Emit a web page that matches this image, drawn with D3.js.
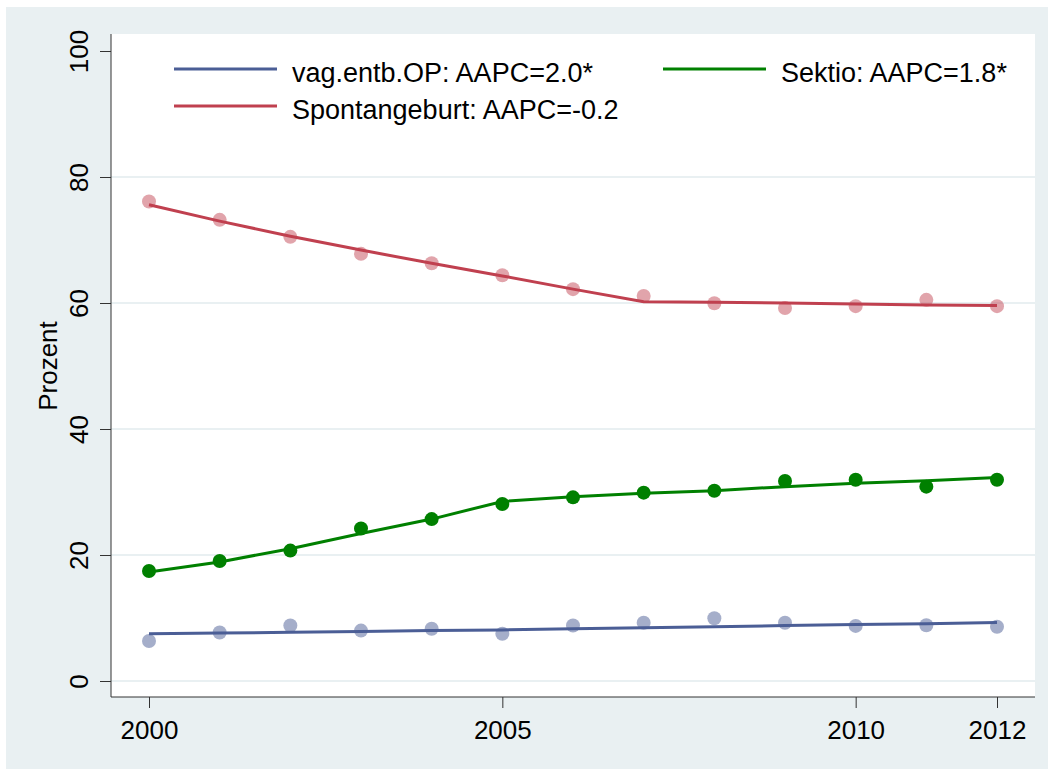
<!DOCTYPE html>
<html>
<head>
<meta charset="utf-8">
<script src="https://cdn.jsdelivr.net/npm/d3@7"></script>
<style>
  body { margin: 0; background: #fff; }
  text { font-family: "Liberation Sans", Arial, sans-serif; fill: #000; }
</style>
</head>
<body>
<svg width="1048" height="769"></svg>
<script>
// data
const years = [2000, 2001, 2002, 2003, 2004, 2005, 2006, 2007, 2008, 2009, 2010, 2011, 2012];
const vagObs   = [6.35, 7.7, 8.8, 8.0, 8.3, 7.5, 8.8, 9.25, 9.95, 9.25, 8.75, 8.85, 8.6];
const vagFit   = [7.5, 7.6, 7.75, 7.85, 8.0, 8.1, 8.3, 8.45, 8.6, 8.8, 8.95, 9.1, 9.3];
const spontObs = [76.1, 73.2, 70.5, 67.8, 66.3, 64.4, 62.2, 61.1, 59.95, 59.2, 59.5, 60.5, 59.5];
const spontFit = [75.6, 73.0, 70.6, 68.4, 66.3, 64.3, 62.2, 60.2, 60.1, 60.0, 59.85, 59.7, 59.6];
const sektioObs = [17.45, 19.05, 20.7, 24.2, 25.7, 28.1, 29.15, 29.9, 30.2, 31.75, 31.95, 30.85, 31.95];
const sektioFit = [17.3, 18.9, 21.0, 23.4, 25.7, 28.5, 29.25, 29.8, 30.2, 30.85, 31.4, 31.8, 32.3];
const yTicks = [0, 20, 40, 60, 80, 100];
const xTicks = [2000, 2005, 2010, 2012];

const series = [
  {name: 'vag.entb.OP: AAPC=2.0*', obs: vagObs, fit: vagFit, color: '#4b5e96', dot: 0.5},
  {name: 'Spontangeburt: AAPC=-0.2', obs: spontObs, fit: spontFit, color: '#c0404f', dot: 0.48},
  {name: 'Sektio: AAPC=1.8*', obs: sektioObs, fit: sektioFit, color: '#008000', dot: 1}
];

const svg = d3.select('svg');
const plot = {left: 111, right: 1035, top: 34, bottom: 697};

// outer graph region
svg.append('rect')
  .attr('x', 6).attr('y', 7).attr('width', 1042).attr('height', 762)
  .attr('fill', '#e9f0f2');
svg.append('rect')
  .attr('x', plot.left).attr('y', plot.top)
  .attr('width', plot.right - plot.left).attr('height', plot.bottom - plot.top)
  .attr('fill', '#fff');

const xScale = d3.scaleLinear().domain([2000, 2012]).range([149, 997]);
const yScale = d3.scaleLinear().domain([0, 100]).range([681, 51]);

// grid
svg.append('g').selectAll('line').data(yTicks.filter(d => d < 100))
  .enter().append('line')
    .attr('x1', plot.left).attr('x2', plot.right)
    .attr('y1', d => yScale(d)).attr('y2', d => yScale(d))
    .attr('stroke', '#e9f0f2').attr('stroke-width', 2);

// axes
const yAxis = svg.append('g')
  .attr('transform', `translate(${plot.left},0)`)
  .call(d3.axisLeft(yScale).tickValues(yTicks).tickSize(11).tickPadding(6));
yAxis.select('.domain').attr('d', `M0,${plot.top}V${plot.bottom}`).attr('stroke', '#333');
yAxis.selectAll('.tick line').attr('stroke', '#333');
yAxis.selectAll('.tick text')
  .attr('font-size', 26)
  .attr('text-anchor', 'middle')
  .attr('x', 0).attr('dy', 0)
  .attr('transform', 'translate(-32,0) rotate(-90)')
  .attr('dominant-baseline', 'central');

const xAxis = svg.append('g')
  .attr('transform', `translate(0,${plot.bottom})`)
  .call(d3.axisBottom(xScale).tickValues(xTicks).tickFormat(d3.format('d')).tickSize(11).tickPadding(13));
xAxis.select('.domain').attr('d', `M${plot.left},0H${plot.right}`).attr('stroke', '#333');
xAxis.selectAll('.tick line').attr('stroke', '#333');
xAxis.selectAll('.tick text').attr('font-size', 26);

svg.selectAll('.tick text').attr('font-family', '"Liberation Sans", Arial, sans-serif').attr('fill', '#000');

svg.append('text')
  .attr('transform', 'translate(48,366) rotate(-90)')
  .attr('text-anchor', 'middle')
  .attr('dominant-baseline', 'central')
  .attr('font-size', 26)
  .text('Prozent');

// markers first, fitted lines on top
series.forEach(s => {
  svg.append('g').selectAll('circle').data(s.obs)
    .enter().append('circle')
      .attr('cx', (d, i) => xScale(years[i]))
      .attr('cy', d => yScale(d))
      .attr('r', 7)
      .attr('fill', s.color)
      .attr('fill-opacity', s.dot);
});

const line = d3.line()
  .x((d, i) => xScale(years[i]))
  .y(d => yScale(d));

series.forEach(s => {
  svg.append('path')
    .datum(s.fit)
    .attr('d', line)
    .attr('fill', 'none')
    .attr('stroke', s.color)
    .attr('stroke-width', 3);
});

// legend
const legendPos = [
  {x: 174, y: 69},
  {x: 174, y: 106},
  {x: 663, y: 69}
];
series.forEach((s, i) => {
  const p = legendPos[i];
  const g = svg.append('g').attr('transform', `translate(${p.x},${p.y})`);
  g.append('line')
    .attr('x1', 0).attr('x2', 103)
    .attr('stroke', s.color).attr('stroke-width', 3);
  g.append('text')
    .attr('x', 118).attr('y', 12.5)
    .attr('font-size', 27)
    .text(s.name);
});
</script>
</body>
</html>
